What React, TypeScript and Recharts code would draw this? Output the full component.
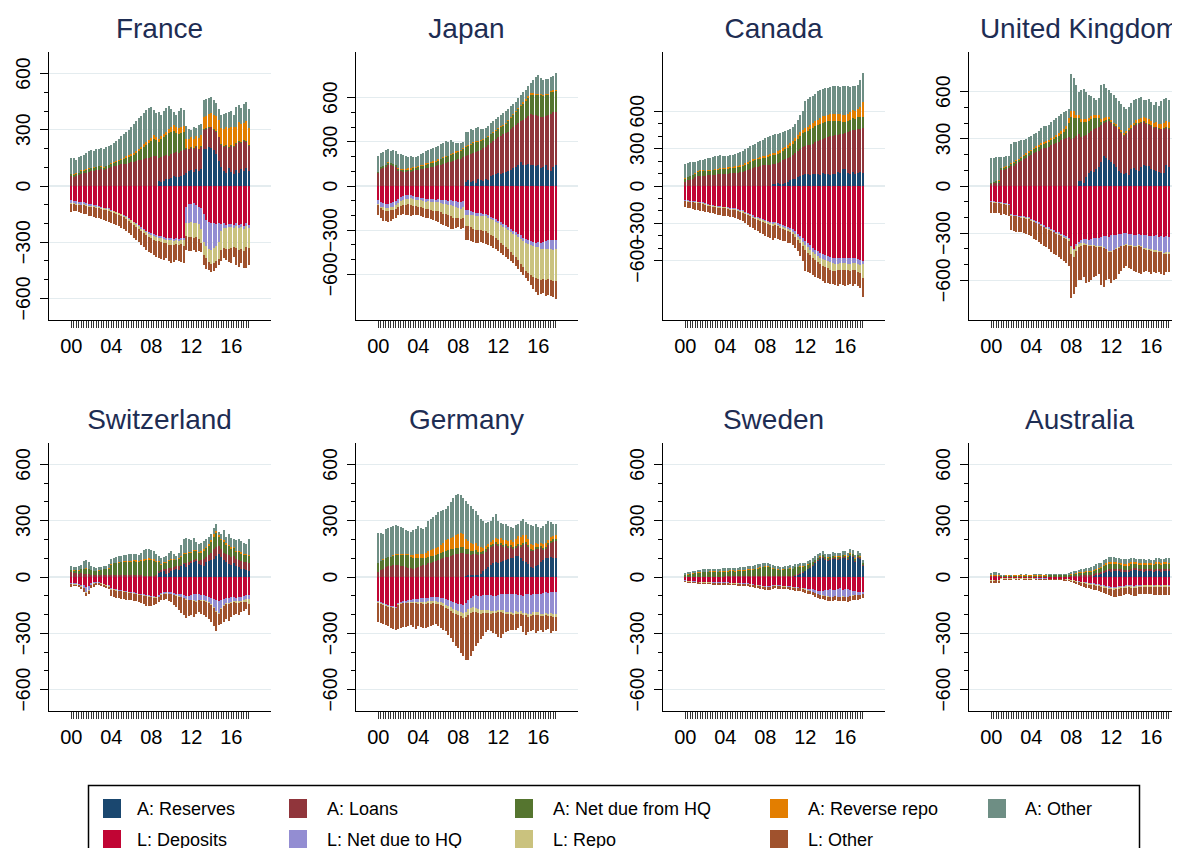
import { BarChart, Bar, XAxis, YAxis, CartesianGrid } from 'recharts'

const FONT = '"Liberation Sans", Arial, Helvetica, sans-serif'

const years = ['00', '01', '02', '03', '04', '05', '06', '07', '08', '09', '10', '11', '12', '13', '14', '15', '16', '17']
const quarters = years.flatMap((y) => ['1', '2', '3', '4'].map((q) => `${y}q${q}`))
const yearLabels = ['00', '04', '08', '12', '16']
const yTicks = [-600, -500, -400, -300, -200, -100, 0, 100, 200, 300, 400, 500, 600]
const gridValues = [-600, -300, 0, 300, 600]

const assetKeys = ['aRes', 'aLoan', 'aHq', 'aRrepo', 'aOth']
const assetNames = ['A: Reserves', 'A: Loans', 'A: Net due from HQ', 'A: Reverse repo', 'A: Other']
const assetColors = ['#1a476f', '#90353b', '#55752f', '#e37e00', '#6e8e84']
const liabKeys = ['lDep', 'lHq', 'lRepo', 'lOth']
const liabNames = ['L: Deposits', 'L: Net due to HQ', 'L: Repo', 'L: Other']
const liabColors = ['#c10534', '#938dd2', '#cac27e', '#a0522d']

// France (quarterly, 2000q1-2017q4; liabilities as magnitudes)
const frRes = [0,0,0,0, 0,0,0,0, 0,0,0,0, 0,0,0,0, 0,0,0,0, 0,0,0,0, 0,0,0,0, 0,0,0,0,
  0,0,0,25, 20,28,35,40, 45,55,50,50, 55,60,70,80, 85,75,90,80, 90,200,195,210, 205,190,170,135, 100,80,70,95, 75,65,85,70, 90,80,95,80]
const frLoan = [55,50,55,60, 65,70,72,75, 78,80,85,88, 90,85,92,95, 100,105,108,112, 115,118,120,125, 128,130,135,140, 140,145,150,152, 155,158,160,125,
  135,132,130,122, 125,120,130,128, 130,130,130,115, 120,125,120,115, 120,100,110,100, 110,110,120,125, 120,130,145,110, 140,145,140,165, 140,160,140,135]
const frHqA = [7,10,10,10, 15,12,16,17, 17,18,15,17, 12,13,13,15, 20,20,22,23, 25,27,30,30, 32,35,40,45, 55,65,70,78, 85,92,85,85,
  95,100,105,123, 120,120,105,102, 100,100,5,5, 4,3,3,2, 3,4,2,3, 2,3,3,4, 3,2,3,3, 4,3,2,3, 3,3,4,2]
const frRrepo = [2,2,3,2, 3,2,3,3, 3,3,4,3, 4,3,4,4, 4,5,5,5, 6,7,8,8, 10,10,12,12, 14,15,16,18, 18,20,18,16,
  15,16,18,20, 25,28,30,28, 30,32,45,50, 55,50,55,60, 60,65,65,70, 70,75,80,90, 85,90,95,100, 95,100,90,105, 100,95,110,95]
const frAOth = [86,86,72,83, 77,81,84,90, 92,84,91,92, 99,97,101,101, 96,100,105,110, 119,123,132,137, 145,155,158,168, 166,165,169,167, 162,135,127,144,
  115,124,127,120, 95,72,65,92, 100,83,70,55, 37,63,41,67, 57,88,91,87, 87,83,71,57, 72,83,76,87, 87,67,102,87, 82,97,97,97]
const frDep = [75,78,80,85, 85,88,92,95, 98,100,102,106, 110,115,118,120, 128,132,138,142, 148,155,162,170, 180,190,200,210, 220,228,238,245, 252,258,262,265,
  268,272,275,278, 280,282,278,282, 276,280,110,95, 95,92,100,110, 120,150,180,190, 195,200,205,200, 205,200,210,205, 205,210,200,208, 205,212,200,210]
const frHqL = [15,14,15,10, 15,10,10,10, 7,8,8,6, 5,5,4,5, 4,4,3,3, 4,3,3,4, 4,4,4,5, 8,8,8,10, 10,10,10,11,
  10,10,11,12, 10,10,10,10, 10,10,85,100, 95,108,95,95, 110,150,140,145, 145,130,115,100, 35,25,15,15, 15,15,15,14, 15,16,15,15]
const frRepo = [5,5,5,5, 4,5,5,5, 5,5,6,6, 6,6,6,7, 8,8,9,10, 10,10,11,11, 12,12,13,13, 14,14,15,15, 16,18,20,20,
  20,22,20,25, 25,22,20,25, 25,28,70,75, 80,78,75,80, 75,70,65,70, 75,80,80,90, 100,105,110,115, 110,100,115,120, 115,118,110,105]
const frLOth = [45,38,35,40, 41,47,45,48, 50,52,54,54, 57,54,57,58, 60,61,60,60, 60,62,64,65, 66,69,73,72, 73,75,79,80, 82,84,88,89,
  92,91,79,85, 95,91,87,83, 94,92,75,75, 75,62,80,60, 45,50,60,45, 45,45,40,30, 60,55,60,70, 80,55,90,88, 75,89,115,90]

// Japan
const jpRes = [0,0,0,0, 0,0,0,0, 0,0,0,0, 0,0,0,0, 0,0,0,0, 0,0,0,0, 0,0,0,0, 0,0,0,0,
  0,0,0,25, 40,30,35,20, 45,40,35,50, 40,70,75,80, 85,80,90,95, 100,110,120,130, 140,165,145,140, 150,140,145,135, 145,125,130,140, 110,105,130,140]
const jpLoan = [88,118,125,130, 145,140,135,128, 105,100,95,98, 100,98,105,108, 112,115,118,122, 125,128,130,135, 140,145,150,155, 160,165,170,175, 180,185,195,180,
  170,185,190,210, 190,205,220,215, 240,225,230,240, 245,260,260,265, 270,275,280,285, 290,275,305,320, 325,350,340,345, 330,345,338,335, 370,385,370,365]
const jpHqA = [5,8,10,10, 12,15,12,12, 10,10,12,12, 12,14,15,15, 18,20,20,22, 25,25,28,30, 32,35,38,40, 42,45,48,50, 50,55,58,60,
  62,65,68,68, 65,62,60,58, 55,55,56,55, 55,58,60,62, 70,75,82,90, 95,100,110,120, 125,130,135,140, 140,145,145,140, 140,145,140,140]
const jpRrepo = [3,3,4,4, 4,4,5,5, 5,6,6,8, 8,10,10,8, 8,10,8,9, 8,10,10,8, 8,6,6,6, 5,6,8,10, 8,6,5,5,
  6,8,6,5, 5,6,6,5, 5,5,6,6, 6,8,7,6, 6,8,8,7, 8,8,10,10, 12,10,10,8, 10,8,8,10, 8,8,10,10]
const jpAOth = [109,96,91,101, 89,81,93,90, 95,104,97,87, 80,83,65,69, 67,70,79,82, 87,87,92,92, 95,99,96,104, 93,94,74,60, 52,49,42,95,
  92,97,81,92, 95,77,64,67, 70,70,73,74, 79,74,78,82, 79,72,65,58, 67,67,65,65, 68,70,90,112, 130,112,99,100, 102,97,100,110]
const jpDep = [95,110,115,120, 120,115,110,100, 85,75,65,62, 60,62,70,72, 75,80,82,85, 85,88,90,92, 90,92,95,98, 100,98,102,105, 108,112,100,160,
  165,170,175,180, 182,185,188,190, 200,210,215,225, 235,245,255,268, 280,290,305,315, 325,335,350,360, 370,375,380,385, 380,385,380,375, 370,365,370,365]
const jpHqL = [25,30,30,30, 30,28,30,32, 32,30,30,28, 25,22,20,20, 20,18,20,22, 20,22,22,20, 20,22,25,25, 28,30,35,38, 40,42,40,35,
  30,25,25,22, 20,18,18,16, 15,15,16,18, 18,20,22,20, 18,20,22,20, 20,22,22,25, 25,28,30,30, 35,40,45,50, 55,60,65,65]
const jpRepo = [10,12,15,18, 20,22,25,25, 28,32,35,38, 40,42,44,42, 45,48,50,52, 52,55,58,60, 62,65,68,70, 72,75,78,75, 72,70,75,80,
  80,85,90,95, 95,98,100,102, 105,108,110,112, 115,120,122,125, 130,135,140,150, 160,170,180,190, 195,200,205,210, 215,210,205,210, 205,210,212,215]
const jpLOth = [70,68,75,72, 75,70,60,58, 55,58,60,67, 75,79,66,61, 60,59,58,56, 58,60,60,68, 73,76,77,82, 80,87,80,67, 60,66,70,90,
  95,95,90,88, 88,79,84,87, 80,77,79,75, 72,70,71,67, 67,65,58,60, 60,58,53,50, 55,67,85,95, 110,100,100,110, 110,110,108,120]

// Canada
const caRes = [0,0,0,0, 0,0,0,0, 0,0,0,0, 0,0,0,0, 0,0,0,0, 0,0,0,0, 0,0,0,0, 0,0,0,0,
  0,0,0,15, 20,25,18,15, 22,30,50,55, 60,70,80,85, 95,100,90,95, 100,95,90,105, 95,100,90,95, 100,110,105,140, 135,105,100,110, 95,105,110,105]
const caLoan = [30,45,50,55, 70,80,82,84, 84,86,88,90, 92,94,96,97, 98,100,102,104, 106,108,110,114, 124,130,138,145, 150,155,160,165, 165,168,172,163,
  160,163,177,190, 193,192,182,191, 205,210,220,228, 223,225,242,245, 250,263,278,273, 287,290,308,310, 308,302,313,280, 287,325,340,338, 355,350,350,357]
const caHqA = [30,28,30,32, 30,35,38,36, 35,34,33,35, 36,35,38,38, 38,40,40,42, 42,44,45,45, 48,50,52,55, 55,58,60,62, 62,65,65,68,
  68,70,72,75, 78,82,85,90, 95,100,105,110, 115,120,122,125, 128,130,132,130, 130,128,125,120, 115,110,100,95, 95,92,90,95, 90,95,92,95]
const caRrepo = [3,3,4,4, 4,5,5,5, 5,6,6,7, 8,8,9,10, 10,10,9,10, 10,10,11,12, 12,12,12,13, 13,14,15,15, 16,18,20,18,
  18,20,20,22, 22,22,24,25, 25,28,30,30, 30,32,35,38, 40,42,45,50, 52,55,58,55, 55,58,60,55, 50,55,60,65, 60,70,80,115]
const caAOth = [112,109,106,101, 91,80,80,80, 91,96,98,98, 102,105,102,95, 92,90,94,94, 97,100,104,111, 111,113,116,117, 122,125,127,130, 142,144,145,144,
  149,142,141,130, 125,124,119,109, 110,122,135,152, 217,223,226,222, 222,230,225,222, 221,217,214,220, 222,225,220,230, 238,223,205,197, 200,190,218,238]
const caDep = [110,115,118,120, 122,125,128,132, 140,145,150,155, 158,160,162,165, 165,170,175,178, 180,185,190,195, 205,215,225,235, 245,250,255,262, 270,278,285,292,
  285,295,305,315, 320,330,338,348, 365,385,400,420, 445,460,475,495, 510,520,535,545, 550,560,570,575, 578,580,575,578, 575,580,578,575, 580,585,595,605]
const caHqL = [8,8,7,7, 7,6,6,6, 5,6,6,5, 5,5,6,6, 6,6,7,7, 7,8,8,8, 8,8,9,10, 10,10,12,12, 12,14,15,15,
  15,14,15,16, 14,15,16,18, 20,22,25,28, 30,32,35,35, 38,40,40,42, 42,40,42,45, 45,42,40,42, 40,42,45,40, 40,42,40,20]
const caRepo = [4,4,4,5, 5,5,5,6, 6,6,7,7, 7,8,8,8, 8,8,9,9, 9,10,10,10, 10,10,10,10, 10,12,12,12, 12,12,14,14,
  14,15,16,16, 16,18,18,20, 22,25,30,35, 40,42,45,45, 48,50,52,55, 55,55,58,60, 58,55,55,56, 55,52,55,58, 55,60,65,110]
const caLOth = [48,48,51,53, 56,59,61,54, 54,53,52,53, 55,57,59,61, 61,58,54,56, 59,59,62,67, 72,77,81,85, 90,93,96,99, 106,106,106,109,
  101,101,99,98, 95,92,88,84, 88,88,105,117, 165,156,145,135, 134,130,123,123, 128,125,115,110, 114,123,120,119, 130,121,112,127, 115,113,120,155]

// United Kingdom
const ukRes = [0,0,0,0, 0,0,0,0, 0,0,0,0, 0,0,0,0, 0,0,0,0, 0,0,0,0, 0,0,0,0, 0,0,0,0,
  0,0,0,30, 35,20,60,80, 95,90,110,120, 150,190,180,165, 150,140,120,95, 80,75,85,70, 110,115,100,95, 120,135,130,125, 110,100,95,90, 85,80,135,120]
const ukLoan = [15,18,20,22, 100,105,108,112, 125,130,140,150, 160,170,180,190, 200,210,215,225, 235,240,245,250, 258,265,272,280, 290,300,305,310, 300,305,320,300,
  280,300,265,255, 255,270,260,255, 240,210,230,250, 250,245,255,265, 260,245,245,280, 255,265,290,300, 280,270,265,265, 275,270,278,272, 275,285,235,245]
const ukHqA = [5,8,10,12, 12,12,14,14, 15,16,18,18, 18,20,20,22, 22,24,25,25, 25,28,30,30, 32,35,38,40, 42,45,55,90, 140,130,110,100,
  95,90,85,80, 75,70,65,60, 20,15,12,10, 8,8,6,6, 6,5,5,6, 6,6,8,8, 8,8,6,6, 6,6,5,5, 5,5,6,6]
const ukRrepo = [2,2,2,2, 3,3,3,4, 4,5,6,6, 6,8,8,10, 10,10,12,12, 12,12,14,14, 15,15,16,16, 18,20,25,30, 35,40,25,20,
  15,15,18,20, 20,22,18,15, 15,18,20,15, 12,10,12,10, 10,12,15,15, 15,18,20,22, 25,28,30,28, 25,28,30,28, 30,32,35,35]
const ukAOth = [158,150,150,149, 67,65,65,60, 126,129,118,111, 106,97,92,88, 88,86,88,88, 98,100,96,96, 105,105,104,109, 110,105,95,60, 240,215,185,150,
  185,195,172,145, 125,108,97,110, 215,217,183,170, 170,177,167,164, 164,163,140,129, 144,141,137,135, 132,109,114,131, 119,111,125,117, 145,153,149,139]
const ukDep = [95,98,100,102, 105,108,110,115, 180,182,185,188, 190,192,195,198, 210,215,225,232, 242,250,258,264, 275,282,290,296, 305,312,320,328, 380,400,370,355,
  345,340,338,342, 335,330,332,328, 325,320,318,322, 315,310,312,308, 305,302,300,305, 308,310,312,305, 310,315,312,318, 318,320,315,322, 320,325,318,322]
const ukHqL = [5,5,5,5, 5,6,6,6, 6,6,6,7, 7,7,8,8, 8,8,8,8, 8,8,8,8, 8,8,9,9, 10,10,10,10, 10,10,12,15,
  20,25,30,35, 40,45,50,55, 60,70,80,90, 100,95,85,80, 75,72,70,72, 70,75,72,70, 72,80,85,80, 85,90,95,90, 95,100,105,100]
const ukRepo = [3,3,3,3, 3,3,3,3, 3,3,3,4, 4,4,4,4, 4,5,5,5, 5,5,5,5, 5,5,6,6, 6,8,10,15, 45,40,30,20,
  15,12,10,8, 8,6,6,5, 5,5,5,5, 5,5,5,5, 5,5,5,5, 6,6,6,6, 8,8,8,8, 8,8,8,8, 8,8,8,8]
const ukLOth = [67,64,67,65, 72,63,66,66, 91,94,96,91, 94,97,98,100, 98,107,107,110, 115,117,119,123, 132,135,135,144, 144,145,150,157, 280,240,228,210,
  220,203,242,225, 217,199,182,172, 240,245,197,173, 200,190,188,167, 155,141,135,138, 146,149,160,174, 170,142,135,144, 149,127,137,130, 137,132,119,115]

// Switzerland
const chRes = [0,0,0,0, 0,0,0,0, 0,0,0,0, 0,0,0,0, 0,0,0,0, 0,0,0,0, 0,0,0,0, 0,0,0,0,
  0,0,0,20, 25,30,15,20, 30,35,40,35, 60,70,55,65, 75,80,85,70, 65,60,80,85, 90,95,110,120, 105,90,80,70, 65,75,60,55, 45,40,35,30]
const chLoan = [25,22,20,18, 20,18,15,15, 12,10,10,12, 12,12,10,10, 10,12,12,10, 10,10,8,8, 8,8,8,8, 8,6,6,6, 5,5,8,10,
  10,15,30,28, 20,20,18,25, 5,5,17,13, 10,10,10,15, 25,35,25,30, 40,55,50,45, 45,40,40,45, 40,35,35,35, 40,40,45,45]
const chHqA = [10,12,15,15, 20,25,30,28, 25,22,20,22, 25,28,30,35, 55,60,62,65, 68,70,70,72, 72,75,72,70, 75,80,82,85, 85,80,70,50,
  30,28,30,35, 40,35,30,35, 40,45,50,48, 45,50,45,42, 40,45,48,50, 55,65,75,50, 45,55,50,48, 45,42,40,42, 40,38,35,35]
const chRrepo = [2,2,2,2, 2,2,2,2, 2,2,2,2, 2,2,2,2, 3,3,3,3, 4,5,6,5, 5,6,8,8, 8,10,8,8, 8,10,8,6,
  5,5,4,5, 5,5,5,5, 6,8,8,6, 5,6,6,5, 6,8,8,10, 10,12,12,10, 10,12,10,8, 8,8,6,6, 6,5,5,8]
const chAOth = [23,19,18,25, 23,40,43,35, 21,21,18,16, 16,18,16,23, 27,25,28,32, 30,30,34,35, 37,36,32,32, 39,49,52,51, 47,45,39,24,
  30,27,31,42, 45,25,17,30, 59,72,80,68, 60,64,39,43, 44,42,39,40, 35,33,38,15, 25,53,35,59, 52,45,54,62, 59,57,55,82]
const chDep = [30,32,32,35, 40,42,55,50, 32,28,25,25, 30,35,40,45, 60,62,65,68, 70,72,75,78, 80,82,85,88, 90,92,95,98, 100,102,104,98,
  85,80,78,82, 80,85,88,90, 92,95,100,102, 95,90,88,92, 95,98,100,105, 110,115,125,130, 120,115,110,112, 108,105,110,108, 105,100,98,95]
const chHqL = [5,5,6,6, 8,15,25,20, 8,6,5,5, 4,4,4,4, 4,4,4,4, 4,4,4,4, 4,4,4,4, 4,4,5,5, 5,5,5,6,
  6,8,8,8, 8,10,10,12, 12,15,18,20, 25,35,40,30, 30,25,28,30, 35,45,55,60, 45,35,30,25, 25,22,20,22, 22,25,20,20]
const chRepo = [3,3,3,3, 3,3,3,3, 3,3,3,3, 3,3,3,3, 3,3,3,3, 3,3,3,3, 3,3,3,3, 3,3,3,3, 3,3,3,3,
  3,3,3,3, 3,3,3,3, 3,3,3,3, 3,3,3,3, 3,3,3,3, 5,5,6,5, 5,5,5,5, 5,5,6,6, 8,10,15,30]
const chLOth = [17,10,9,11, 14,20,17,17, 17,18,12,9, 13,13,11,13, 33,36,38,37, 38,39,38,37, 38,39,38,40, 43,46,52,49, 47,40,33,28,
  31,29,29,37, 44,52,59,70, 83,92,99,85, 77,87,64,60, 67,79,84,87, 90,95,104,60, 80,85,80,93, 77,73,59,64, 50,45,37,60]

// Germany
const deRes = [0,0,0,0, 0,0,0,0, 0,0,0,0, 0,0,0,0, 0,0,0,0, 0,0,0,0, 0,0,0,0, 0,0,0,0,
  0,0,0,5, 8,10,12,10, 12,15,30,45, 55,65,75,80, 75,80,85,90, 95,100,100,110, 110,100,85,80, 70,55,50,60, 65,80,90,100, 100,105,100,100]
const deLoan = [25,35,45,55, 60,58,62,65, 62,60,58,55, 50,48,45,50, 55,60,62,65, 72,75,80,85, 90,95,100,105, 108,110,115,120, 125,128,130,120,
  114,108,108,115, 103,105,95,90, 95,95,90,95, 90,90,75,75, 60,60,50,45, 55,60,85,95, 90,85,88,90, 85,75,55,50, 70,75,85,90]
const deHqA = [50,50,48,45, 45,48,50,52, 55,58,60,62, 65,60,55,50, 45,40,38,35, 35,35,32,32, 30,32,32,35, 35,38,35,32, 30,30,28,25,
  25,22,20,20, 18,15,12,12, 10,10,12,10, 10,12,10,10, 10,8,10,12, 12,10,10,10, 10,8,8,8, 8,10,10,12, 12,14,15,15]
const deRrepo = [2,2,2,2, 3,3,3,3, 3,3,4,4, 5,8,15,20, 20,22,25,28, 30,32,35,38, 42,45,50,55, 60,62,65,70, 72,75,70,55,
  45,40,38,35, 30,25,20,18, 15,18,20,22, 25,28,25,22, 25,30,28,35, 40,42,45,40, 35,30,25,22, 20,18,20,18, 15,18,20,18]
const deAOth = [158,148,135,153, 152,156,155,155, 150,144,138,129, 125,124,135,135, 150,138,130,137, 163,168,173,175, 183,178,173,165, 177,190,205,213, 213,202,192,200,
  198,200,182,170, 167,150,143,125, 120,112,123,128, 100,80,85,88, 80,67,72,73, 68,88,85,70, 75,97,99,105, 87,77,95,100, 103,83,65,62]
const deDep = [130,135,140,145, 150,152,155,158, 140,135,130,128, 125,120,118,115, 115,112,110,112, 110,108,105,106, 108,110,112,118, 125,130,135,138, 142,145,148,140,
  120,110,100,98, 100,102,98,95, 95,98,100,102, 95,90,88,92, 90,88,92,88, 95,98,100,90, 92,95,90,92, 88,90,85,82, 85,82,80,78]
const deHqL = [5,5,5,6, 6,6,6,6, 6,6,8,8, 10,12,15,18, 20,20,22,22, 20,22,22,24, 25,25,28,30, 30,32,35,38, 38,40,45,45,
  50,55,60,65, 70,75,78,80, 82,85,80,78, 80,85,90,95, 95,98,100,95, 90,85,90,100, 105,100,95,95, 100,105,110,108, 110,112,115,118]
const deRepo = [3,3,3,3, 3,3,3,3, 3,3,3,3, 5,5,6,6, 8,8,10,10, 10,12,12,12, 12,14,15,15, 15,18,20,20, 22,25,28,30,
  30,28,25,22, 20,18,15,15, 15,15,14,14, 12,12,12,12, 12,12,12,12, 12,12,12,14, 14,14,15,15, 15,15,14,15, 15,15,16,16]
const deLOth = [102,102,102,101, 103,109,114,115, 126,126,127,126, 120,121,129,136, 117,125,128,128, 125,118,116,110, 117,121,125,127, 140,145,155,169, 178,195,199,225,
  240,227,210,185, 160,135,124,105, 93,92,106,111, 133,138,115,96, 93,87,76,90, 73,65,93,106, 84,81,85,98, 87,75,86,75, 65,91,79,78]

// Sweden
const seRes = [0,0,0,0, 0,0,0,0, 0,0,0,0, 0,0,0,0, 0,0,0,0, 0,0,0,0, 0,0,0,0, 0,0,0,0, 0,0,0,0, 0,0,0,0, 0,0,0,0,
  5,10,15,20, 30,40,50,60, 75,85,95,100, 90,85,90,95, 95,90,95,100, 100,90,110,105, 80,100,95,60]
const seLoan = [2,2,2,2, 2,2,2,2, 2,2,2,2, 2,2,2,2, 3,3,3,3, 3,3,3,3, 3,3,3,3, 3,3,3,3, 3,3,3,3,
  3,3,3,3, 3,3,3,3, 4,5,4,5, 4,5,4,5, 4,5,4,5, 4,5,4,5, 4,5,4,5, 4,5,4,5, 4,5,4,5]
const seHqA = [8,10,12,15, 18,20,20,22, 22,24,25,25, 25,24,25,26, 25,26,28,28, 26,28,28,30, 30,32,34,36, 38,42,45,48, 50,52,48,42,
  38,35,34,36, 38,40,42,40, 42,38,35,30, 25,20,18,15, 12,10,10,10, 10,12,10,10, 10,12,10,10, 10,12,10,10, 12,10,10,8]
const seRrepo = [2,2,2,2, 2,2,3,3, 3,3,3,3, 3,3,4,4, 4,4,4,4, 4,4,5,5, 5,5,5,4, 4,4,3,3, 3,3,3,3,
  3,3,2,2, 2,2,2,2, 2,2,2,2, 2,2,2,2, 2,2,2,3, 3,3,3,3, 3,3,3,3, 3,3,3,3, 3,3,3,3]
const seAOth = [10,12,12,14, 12,14,13,14, 14,13,14,15, 14,15,14,15, 15,14,15,15, 16,15,16,16, 16,17,16,17, 18,18,17,18, 16,15,16,15,
  14,15,14,14, 15,14,15,16, 15,16,16,17, 16,17,16,18, 17,18,18,18, 18,17,18,19, 18,19,18,19, 20,19,20,21, 20,19,18,15]
const seDep = [18,20,20,22, 22,24,25,25, 26,25,26,27, 28,28,27,28, 28,29,30,30, 30,31,32,32, 32,34,36,38, 40,42,45,46, 48,50,48,45,
  42,44,45,46, 46,48,50,52, 54,55,56,58, 60,62,64,66, 70,72,75,72, 70,68,65,68, 70,65,60,68, 65,62,70,72, 75,80,82,80]
const seHqL = [3,3,3,3, 3,3,3,3, 3,3,3,3, 3,3,3,3, 3,3,3,3, 3,3,3,3, 3,3,3,3, 3,3,3,3, 3,3,3,3,
  3,3,3,3, 3,3,3,3, 3,3,3,3, 5,8,10,12, 15,18,20,25, 30,35,40,38, 30,40,45,35, 40,45,30,25, 20,15,12,10]
const seRepo = [2,2,2,2, 2,2,2,2, 2,2,2,2, 2,2,2,2, 2,2,2,2, 2,2,2,2, 2,2,2,2, 2,2,2,2, 2,2,2,2,
  2,2,2,2, 2,2,2,2, 2,2,2,2, 2,2,2,2, 2,2,2,2, 2,2,2,2, 2,2,2,2, 2,2,2,2, 2,2,2,2]
const seLOth = [5,6,6,6, 7,7,8,8, 8,8,8,8, 8,9,9,9, 9,9,10,10, 10,10,10,10, 10,11,11,12, 12,12,13,14, 15,15,14,14,
  14,14,13,13, 13,13,14,14, 14,15,15,16, 16,17,17,18, 18,18,20,20, 20,22,22,20, 20,22,20,22, 22,22,24,24, 24,25,22,20]

// Australia
const auRes = [0,0,0,0, 0,0,0,0, 0,0,0,0, 0,0,0,0, 0,0,0,0, 0,0,0,0, 0,0,0,0, 0,0,0,0, 0,0,0,0, 0,0,0,0,
  0,5,8,10, 15,20,25,30, 28,30,30,30, 28,26,26,25, 32,35,38,30, 30,28,30,32, 30,28,32,30, 28,30,32,30]
const auLoan = [3,3,3,3, 2,2,2,2, 2,2,2,2, 2,2,2,2, 2,2,2,2, 2,2,2,2, 2,2,2,2, 2,2,2,2, 4,5,6,6,
  8,8,10,10, 10,10,12,12, 12,14,14,15, 15,15,14,14, 14,12,12,12, 12,12,10,12, 12,12,10,10, 10,10,12,12, 12,12,12,12]
const auHqA = [3,3,3,3, 4,4,4,4, 4,4,5,5, 5,5,5,5, 5,5,5,5, 5,5,5,6, 6,6,6,6, 6,6,7,7, 8,10,12,14,
  15,15,16,16, 16,18,18,20, 20,22,24,25, 25,26,26,25, 24,22,22,24, 25,24,22,22, 22,22,24,24, 25,24,26,26, 25,26,26,26]
const auRrepo = [2,2,2,2, 1,1,2,2, 1,2,1,2, 2,1,2,1, 1,2,2,1, 2,1,2,2, 1,2,1,2, 2,2,1,2, 3,3,4,4,
  4,5,5,5, 6,6,7,8, 8,8,10,10, 10,10,8,8, 8,10,10,12, 10,8,8,8, 10,10,8,8, 8,8,10,10, 10,10,10,8]
const auAOth = [15,16,16,14, 5,4,4,5, 5,5,4,4, 5,4,5,5, 5,5,5,6, 6,5,6,6, 6,6,7,7, 7,8,8,9, 10,12,12,14,
  14,16,16,18, 20,22,22,22, 22,24,24,26, 26,25,24,24, 22,24,24,22, 24,22,20,24, 22,22,20,22, 20,22,22,22, 22,20,22,24]
const auDep = [15,15,14,15, 6,6,6,6, 6,6,6,6, 6,6,6,6, 6,6,7,7, 7,7,7,8, 8,8,8,8, 8,9,10,12, 14,16,20,22,
  24,26,28,30, 32,34,36,38, 42,45,48,50, 52,54,52,50, 48,46,45,44, 45,50,45,42, 42,40,40,40, 40,42,40,40, 42,40,40,42]
const auHqL = [2,2,2,2, 1,1,1,1, 1,1,1,1, 1,1,1,1, 1,1,1,1, 1,1,1,1, 1,1,1,1, 1,1,1,1, 2,2,2,3,
  3,3,3,4, 4,4,4,4, 5,5,6,6, 6,6,6,5, 5,5,5,4, 4,4,4,4, 4,4,4,4, 4,4,4,4, 4,4,4,4]
const auRepo = [2,2,2,2, 2,2,3,3, 2,2,3,3, 2,3,2,3, 2,2,3,3, 3,2,3,3, 2,3,3,3, 3,3,3,3, 3,3,4,4,
  5,5,5,6, 6,6,6,6, 6,7,7,7, 7,8,8,8, 8,7,7,7, 7,7,8,8, 8,8,7,7, 7,7,8,8, 8,8,8,8]
const auLOth = [14,14,14,14, 4,5,4,5, 5,4,5,4, 4,5,5,4, 5,4,5,5, 5,5,4,5, 5,5,5,6, 5,6,6,7, 8,10,12,14,
  16,18,20,20, 22,24,25,26, 28,30,32,34, 36,38,38,40, 40,38,36,38, 38,40,42,36, 36,38,40,40, 42,44,42,44, 44,45,46,44]

const panels = [
  { title: 'France', max: 715, col: 0, row: 0, assets: [frRes, frLoan, frHqA, frRrepo, frAOth], liabs: [frDep, frHqL, frRepo, frLOth] },
  { title: 'Japan', max: 910, col: 1, row: 0, assets: [jpRes, jpLoan, jpHqA, jpRrepo, jpAOth], liabs: [jpDep, jpHqL, jpRepo, jpLOth] },
  { title: 'Canada', max: 1075, col: 2, row: 0, assets: [caRes, caLoan, caHqA, caRrepo, caAOth], liabs: [caDep, caHqL, caRepo, caLOth] },
  { title: 'United Kingdom', max: 853, col: 3, row: 0, assets: [ukRes, ukLoan, ukHqA, ukRrepo, ukAOth], liabs: [ukDep, ukHqL, ukRepo, ukLOth] },
  { title: 'Switzerland', max: 714, col: 0, row: 1, assets: [chRes, chLoan, chHqA, chRrepo, chAOth], liabs: [chDep, chHqL, chRepo, chLOth] },
  { title: 'Germany', max: 714, col: 1, row: 1, assets: [deRes, deLoan, deHqA, deRrepo, deAOth], liabs: [deDep, deHqL, deRepo, deLOth] },
  { title: 'Sweden', max: 714, col: 2, row: 1, assets: [seRes, seLoan, seHqA, seRrepo, seAOth], liabs: [seDep, seHqL, seRepo, seLOth] },
  { title: 'Australia', max: 714, col: 3, row: 1, assets: [auRes, auLoan, auHqA, auRrepo, auAOth], liabs: [auDep, auHqL, auRepo, auLOth] },
]

// layout
const COL_X = [48, 355, 662, 968]
const ROW_Y = [52, 443]
const TITLE_Y = [38, 429]
const PLOT_W = 223
const PLOT_H = 268
const AXIS_W = 48
const TOP_PAD = 4
const XAXIS_H = 44

function YTick(props: any) {
  const { x, y, payload } = props
  const v = payload.value
  const major = v % 300 === 0
  const tx = x - 18
  return (
    <g>
      <line x1={x - (major ? 8 : 4)} x2={x} y1={y} y2={y} stroke="#000" strokeWidth={1} />
      {major && (
        <text x={tx} y={y} transform={`rotate(-90 ${tx} ${y})`} textAnchor="middle" fontSize={19.5} fill="#000">
          {v < 0 ? `\u2212${-v}` : `${v}`}
        </text>
      )}
    </g>
  )
}

function XTick(props: any) {
  const { x, y, payload } = props
  const lab = String(payload.value)
  const yr = lab.slice(0, 2)
  const show = lab.endsWith('q1') && yearLabels.includes(yr)
  return (
    <g>
      <line x1={x} x2={x} y1={y + 1} y2={y + 8} stroke="#333" strokeWidth={1} />
      {show && (
        <text x={x} y={y + 33} textAnchor="middle" fontSize={20} fill="#000">
          {yr}
        </text>
      )}
    </g>
  )
}

function Panel({ p }: { p: any }) {
  const rows = quarters.map((q, i) => {
    const r: Record<string, any> = { q }
    assetKeys.forEach((k, j) => (r[k] = p.assets[j][i]))
    liabKeys.forEach((k, j) => (r[k] = -p.liabs[j][i]))
    return r
  })
  return (
    <div
      style={{
        position: 'absolute',
        left: COL_X[p.col] - AXIS_W,
        top: ROW_Y[p.row] - TOP_PAD,
        shapeRendering: 'crispEdges',
      }}
    >
      <BarChart
        width={AXIS_W + PLOT_W + 4}
        height={TOP_PAD + PLOT_H + XAXIS_H}
        data={rows}
        stackOffset="sign"
        barCategoryGap={0}
        barGap={0}
        margin={{ top: TOP_PAD, right: 4, bottom: 0, left: 0 }}
      >
        <CartesianGrid vertical={false} horizontalValues={gridValues} stroke="#e4ecef" strokeWidth={1.2} />
        <XAxis
          dataKey="q"
          interval={0}
          tickSize={0}
          tickMargin={0}
          height={XAXIS_H}
          padding={{ left: 22, right: 21 }}
          axisLine={{ stroke: '#000', strokeWidth: 1 }}
          tickLine={false}
          tick={(t: any) => <XTick {...t} />}
        />
        <YAxis
          type="number"
          domain={[-p.max, p.max]}
          ticks={yTicks}
          interval={0}
          width={AXIS_W}
          tickSize={0}
          tickMargin={0}
          allowDataOverflow
          axisLine={{ stroke: '#000', strokeWidth: 1 }}
          tickLine={false}
          tick={(t: any) => <YTick {...t} />}
        />
        {assetKeys.map((k, j) => (
          <Bar key={k} dataKey={k} name={assetNames[j]} stackId="s" barSize={2} fill={assetColors[j]} isAnimationActive={false} />
        ))}
        {liabKeys.map((k, j) => (
          <Bar key={k} dataKey={k} name={liabNames[j]} stackId="s" barSize={2} fill={liabColors[j]} isAnimationActive={false} />
        ))}
      </BarChart>
    </div>
  )
}

const LEG_SW_X = [103, 289, 515, 770, 988]
const LEG_TX_X = [137, 327, 553, 808, 1025]
const LEG_ROW_Y = [799, 830]

export default function App() {
  const legendRows = [
    assetNames.map((n, i) => ({ n, c: assetColors[i] })),
    liabNames.map((n, i) => ({ n, c: liabColors[i] })),
  ]
  return (
    <div
      style={{
        position: 'relative',
        width: 1180,
        height: 856,
        margin: -8,
        overflow: 'hidden',
        background: '#fff',
        fontFamily: FONT,
      }}
    >
      {panels.map((p) => (
        <Panel key={p.title} p={p} />
      ))}
      <svg width={1180} height={856} style={{ position: 'absolute', left: 0, top: 0, pointerEvents: 'none' }}>
        {panels.map((p) => (
          <text
            key={p.title}
            x={COL_X[p.col] + PLOT_W / 2}
            y={TITLE_Y[p.row]}
            textAnchor="middle"
            fontSize={28}
            fill="#1e2d53"
            fontFamily={FONT}
          >
            {p.title}
          </text>
        ))}
        <rect x={88.5} y={785.5} width={1051} height={120} fill="#fff" stroke="#000" strokeWidth={1.5} />
        {legendRows.map((row, r) =>
          row.map((it, i) => (
            <g key={it.n}>
              <rect x={LEG_SW_X[i]} y={LEG_ROW_Y[r]} width={18} height={19} fill={it.c} />
              <text x={LEG_TX_X[i]} y={LEG_ROW_Y[r] + 16} fontSize={18} fill="#000" fontFamily={FONT}>
                {it.n}
              </text>
            </g>
          ))
        )}
      </svg>
    </div>
  )
}
